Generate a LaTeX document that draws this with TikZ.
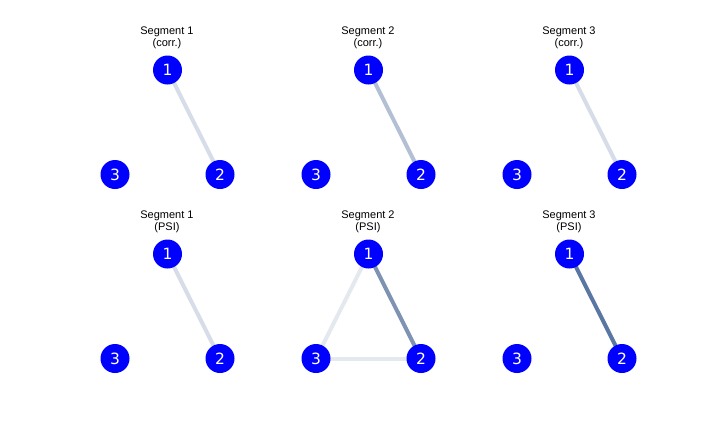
\documentclass[tikz,border=0pt]{standalone}
\usepackage{fontspec}
\setmainfont{DejaVu Sans}
\newfontfamily\titlefont{Liberation Sans}
\usetikzlibrary{backgrounds}
\begin{document}
\begin{tikzpicture}[x=1pt,y=-1pt,
  vertex/.style={circle,fill=blue,draw=none,minimum size=29pt,inner sep=0pt,
    text=white,font=\fontsize{15.5}{16}\selectfont},
  paneltitle/.style={align=center,font=\titlefont\fontsize{11}{12.3}\selectfont,inner sep=0pt},
  link/.style={line width=4pt,draw=#1}]
\definecolor{wA}{HTML}{D6DDE8}
\definecolor{wB}{HTML}{B3C0D4}
\definecolor{wC}{HTML}{7E92B2}
\definecolor{wD}{HTML}{E4E9F0}
\definecolor{wE}{HTML}{5A76A3}
\useasboundingbox (0,0) rectangle (720,432);
% six panels: x offset, y offset, segment, measure, suffix
\foreach \px/\py/\seg/\kind/\id in {0/0/1/corr./a,201/0/2/corr./b,402/0/3/corr./c,
                                 0/184/1/PSI/d,201/184/2/PSI/e,402/184/3/PSI/f}{
  \node[paneltitle] (t\id) at (167+\px,37.5+\py) {Segment \seg\\(\kind)};
  \node[vertex] (n1\id) at (167.5+\px,70+\py) {1};
  \node[vertex] (n2\id) at (220+\px,174.5+\py) {2};
  \node[vertex] (n3\id) at (115+\px,174.5+\py) {3};
}
% connectors drawn behind the vertices
\begin{scope}[on background layer]
\draw[link=wA] (n1a.center) -- (n2a.center);
\draw[link=wB] (n1b.center) -- (n2b.center);
\draw[link=wA] (n1c.center) -- (n2c.center);
\draw[link=wA] (n1d.center) -- (n2d.center);
\draw[link=wD] (n1e.center) -- (n3e.center);
\draw[link=wD] (n3e.center) -- (n2e.center);
\draw[link=wC] (n1e.center) -- (n2e.center);
\draw[link=wE] (n1f.center) -- (n2f.center);
\end{scope}
\end{tikzpicture}
\end{document}
